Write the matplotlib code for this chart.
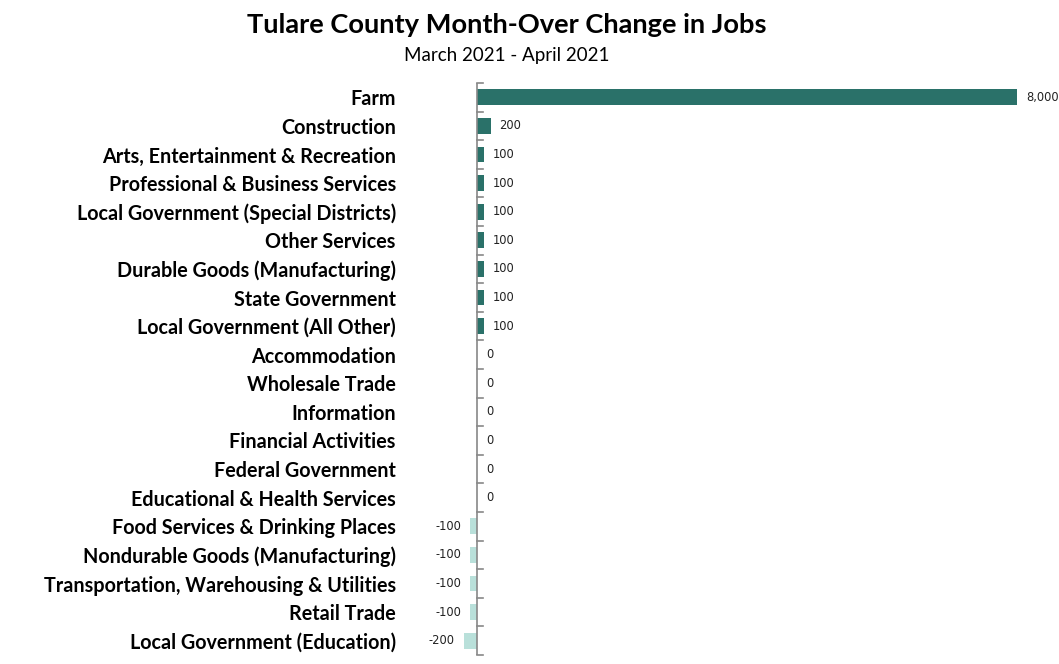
import matplotlib.pyplot as plt

industries = ["Farm", "Construction", "Arts, Entertainment & Recreation",
              "Professional & Business Services", "Local Government (Special Districts)",
              "Other Services", "Durable Goods (Manufacturing)", "State Government",
              "Local Government (All Other)", "Accommodation", "Wholesale Trade",
              "Information", "Financial Activities", "Federal Government",
              "Educational & Health Services", "Food Services & Drinking Places",
              "Nondurable Goods (Manufacturing)", "Transportation, Warehousing & Utilities",
              "Retail Trade", "Local Government (Education)"]
change = [8000, 200, 100, 100, 100, 100, 100, 100, 100, 0, 0, 0, 0, 0, 0,
          -100, -100, -100, -100, -200]

dark = "#2a7169"
light = "#b9e0da"

fig = plt.figure(figsize=(10.59, 6.64), dpi=100)
ax = fig.add_axes([400/1059, 1-655/664, (1040-400)/1059, (655-83)/664])

n = len(industries)
ypos = list(range(n))
colors = [dark if v >= 0 else light for v in change]
ax.barh(ypos, change, height=0.55, color=colors)
ax.set_ylim(n - 0.5, -0.5)
ax.set_xlim(-1141, 8341)

for y, v in zip(ypos, change):
    txt = f"{v:,}"
    if v >= 0:
        ax.annotate(txt, (v, y), xytext=(6.5, 0), textcoords="offset points",
                    ha="left", va="center", fontsize=8.3, color="#222222")
    else:
        ax.annotate(txt, (v, y), xytext=(-6.5, 0), textcoords="offset points",
                    ha="right", va="center", fontsize=8.3, color="#222222")

# axis line at zero with boundary ticks
ax.axvline(0, color="#888888", lw=1.2)
for y in [i - 0.5 for i in range(n + 1)]:
    ax.plot([0, 85], [y, y], color="#888888", lw=1.2, clip_on=False)

ax.set_yticks(ypos)
ax.set_yticklabels(industries, fontsize=14.2, fontweight="bold", family="Lato")
ax.tick_params(axis="y", length=0, pad=3)
ax.set_xticks([])
for s in ax.spines.values():
    s.set_visible(False)

fig.text(507/1059, 1-25/664, "Tulare County Month-Over Change in Jobs",
         ha="center", va="center", fontsize=19.6, fontweight="bold", family="Lato")
fig.text(507/1059, 1-56/664, "March 2021 - April 2021",
         ha="center", va="center", fontsize=13.5, family="Lato")

fig.savefig("out.png", dpi=100)
